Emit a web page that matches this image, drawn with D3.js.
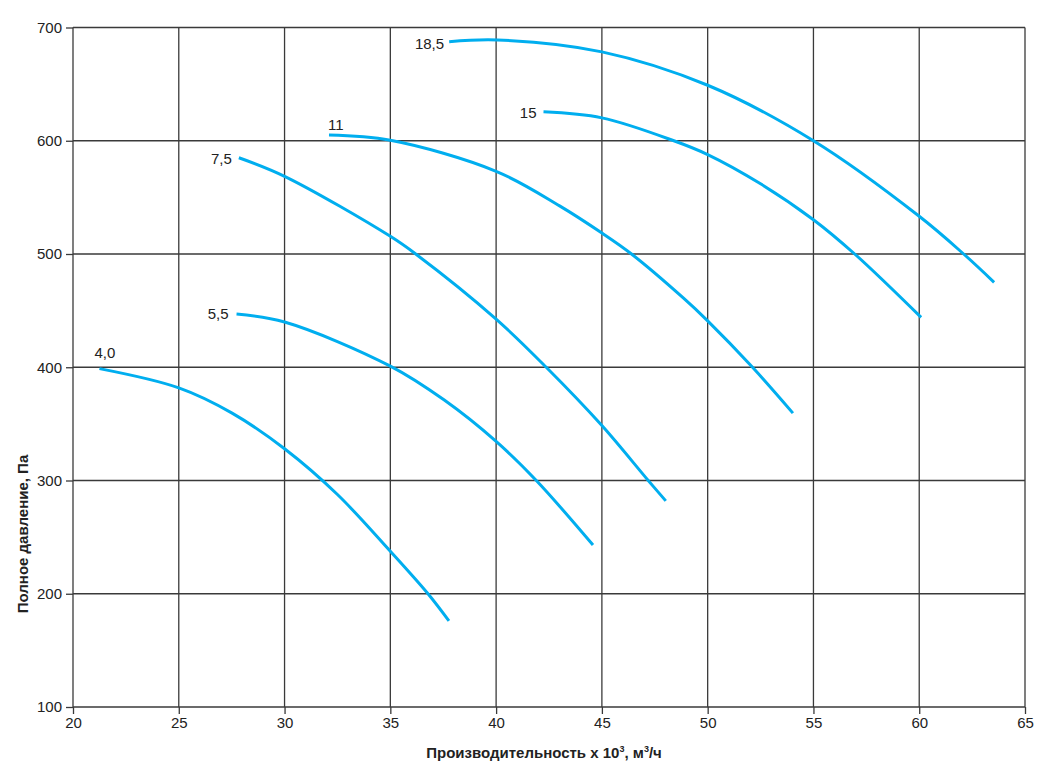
<!DOCTYPE html>
<html>
<head>
<meta charset="utf-8">
<script src="https://cdn.jsdelivr.net/npm/d3@7"></script>
<style>
  body { margin: 0; background: #fff; }
  svg { display: block; font-family: "Liberation Sans", Arial, sans-serif; }
  .grid line { stroke: #3a3a3a; stroke-width: 1.3; }
  .axis path { display: none; }
  .axis text { font-size: 15px; fill: #222; }
  .axis line { stroke: #3a3a3a; stroke-width: 1.3; }
  .curve { fill: none; stroke: #00aeef; stroke-width: 3; }
  .curve-label { font-size: 15px; fill: #222; }
  .title { font-size: 15px; font-weight: bold; fill: #222; }
</style>
</head>
<body>
<div id="chart"></div>
<script>
// motor power labels, kW
const powers = ["4,0", "5,5", "7,5", "11", "15", "18,5"];

// [flow x 10^3 m3/h, total pressure Pa]
const curve40 = [[21.25, 398.8], [25, 381.8], [27.52, 359.5], [30, 328], [32.5, 287.6], [35, 237.5], [36.78, 200], [37.77, 176]];
const curve55 = [[27.73, 447], [30, 440], [35, 401], [37.55, 371], [40, 334.5], [41.9, 300], [44.58, 243]];
const curve75 = [[27.84, 585], [30, 568.6], [35, 515.6], [36.2, 500], [40, 442.5], [42.37, 400], [45, 348.5], [47.19, 300], [48.02, 282]];
const curve11 = [[32.1, 605], [35, 600.4], [40, 573], [43, 542.5], [45, 518.5], [46.4, 500], [48.86, 461], [50, 441], [52.12, 400], [54.03, 359.5]];
const curve15 = [[42.24, 625.5], [45, 620.2], [48.4, 600], [50, 587.8], [52.5, 562], [55, 530.3], [56.95, 500], [60.09, 444]];
const curve185 = [[37.78, 687.5], [40.07, 689], [45, 678.5], [50, 649], [55, 600], [60, 533.3], [62.1, 500], [63.54, 475]];

const curves = [curve40, curve55, curve75, curve11, curve15, curve185];

const xTicks = [20, 25, 30, 35, 40, 45, 50, 55, 60, 65];
const yTicks = [100, 200, 300, 400, 500, 600, 700];

const margin = ({top: 27.5, right: 24, bottom: 70, left: 73});
const width = 1049 - margin.left - margin.right;
const height = 777 - margin.top - margin.bottom;

var svg = d3.select("#chart")
    .append("svg")
    .attr("width", 1049)
    .attr("height", 777);

var g = svg.append("g")
    .attr("transform", "translate(" + margin.left + "," + margin.top + ")");

var xScale = d3.scaleLinear()
    .domain([20, 65])
    .range([0, width]);

var yScale = d3.scaleLinear()
    .domain([100, 700])
    .range([height, 0]);

// grid
g.append("g")
    .attr("class", "grid")
    .selectAll("line")
    .data(xTicks)
    .join("line")
    .attr("x1", d => xScale(d)).attr("x2", d => xScale(d))
    .attr("y1", 0).attr("y2", height);

g.append("g")
    .attr("class", "grid")
    .selectAll("line")
    .data(yTicks)
    .join("line")
    .attr("x1", 0).attr("x2", width)
    .attr("y1", d => yScale(d)).attr("y2", d => yScale(d));

// axes (ticks + labels)
var xAxis = d3.axisBottom(xScale)
    .tickValues(xTicks)
    .tickSize(7)
    .tickPadding(3)
    .tickFormat(d3.format("d"));

var yAxis = d3.axisLeft(yScale)
    .tickValues(yTicks)
    .tickSize(7)
    .tickPadding(4)
    .tickFormat(d3.format("d"));

g.append("g")
    .attr("class", "axis x-axis")
    .attr("transform", `translate(0, ${height})`)
    .call(xAxis);

g.append("g")
    .attr("class", "axis y-axis")
    .call(yAxis);

// curves
var line = d3.line()
    .x(d => xScale(d[0]))
    .y(d => yScale(d[1]))
    .curve(d3.curveCatmullRom.alpha(0.5));

g.selectAll("path.curve")
    .data(curves)
    .join("path")
    .attr("class", "curve")
    .attr("d", line);

// label placement next to each curve start: [anchor, dx, dy]
const labelPlace = [["start", -5, -11], ["end", -8, 5], ["end", -7, 6], ["start", -1, -5], ["end", -7, 6], ["end", -5, 7]];

g.selectAll("text.curve-label")
    .data(curves)
    .join("text")
    .attr("class", "curve-label")
    .attr("x", (d, i) => xScale(d[0][0]) + labelPlace[i][1])
    .attr("y", (d, i) => yScale(d[0][1]) + labelPlace[i][2])
    .attr("text-anchor", (d, i) => labelPlace[i][0])
    .text((d, i) => powers[i]);

// axis titles
var xt = svg.append("text")
    .attr("class", "title")
    .attr("x", 544)
    .attr("y", 758)
    .attr("text-anchor", "middle");
xt.append("tspan").text("Производительность x 10");
xt.append("tspan").attr("dy", -6).style("font-size", "9px").text("3");
xt.append("tspan").attr("dy", 6).text(", м");
xt.append("tspan").attr("dy", -6).style("font-size", "9px").text("3");
xt.append("tspan").attr("dy", 6).text("/ч");

svg.append("text")
    .attr("class", "title")
    .attr("transform", "translate(28,534) rotate(-90)")
    .attr("text-anchor", "middle")
    .text("Полное давление, Па");
</script>
</body>
</html>
